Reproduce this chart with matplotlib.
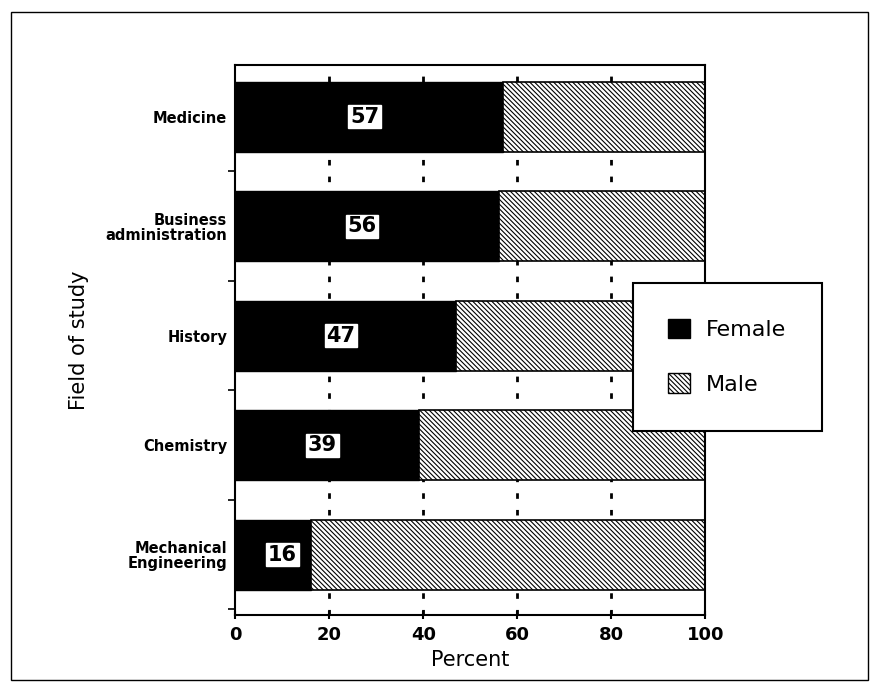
import matplotlib
matplotlib.use("Agg")
import matplotlib.pyplot as plt
from matplotlib.patches import Patch, Rectangle

# data
fields = ["Mechanical\nEngineering", "Chemistry", "History",
          "Business\nadministration", "Medicine"]
female = [16, 39, 47, 56, 57]
male = [100 - f for f in female]

plt.rcParams['hatch.linewidth'] = 0.8

fig = plt.figure(figsize=(8.75, 6.87), dpi=100)
ax = fig.add_axes([0.269, 0.105, 0.537, 0.8])

pos = list(range(len(fields)))
hatch = '\\\\\\\\\\\\\\'
ax.barh(pos, female, height=0.64, color='black', edgecolor='black', zorder=2)
ax.barh(pos, male, left=female, height=0.64, color='white', edgecolor='black',
        hatch=hatch, linewidth=1.2, zorder=2)

for p, f in zip(pos, female):
    ax.text(f * 0.5 + (2 if f < 20 else -1), p, str(f), ha='center', va='center',
            fontsize=15, fontweight='bold', color='black', zorder=3,
            bbox=dict(boxstyle='square,pad=0.08', fc='white', ec='white'))

# dotted grid only shows in the gaps
for gx in [20, 40, 60, 80]:
    ax.axvline(gx, color='black', linestyle=(0, (2, 4)), linewidth=2, zorder=1)

ax.set_xlim(0, 100)
ax.set_ylim(-0.55, 4.47)
ax.set_xticks([0, 20, 40, 60, 80, 100])
ax.set_xticklabels(['0', '20', '40', '60', '80', '100'], fontsize=13, fontweight='bold')
ax.set_yticks(pos)
ax.set_yticklabels(fields, fontsize=10.5, fontweight='bold', linespacing=1.0)
ax.set_yticks([-0.5, 0.5, 1.5, 2.5, 3.5], minor=True)
ax.tick_params(axis='y', which='major', length=0, pad=6)
ax.tick_params(axis='y', which='minor', length=5, width=1.2, direction='out')
ax.tick_params(axis='x', length=6, width=1.5, direction='inout', pad=5)
for s in ax.spines.values():
    s.set_linewidth(1.5)

ax.set_xlabel('Percent', fontsize=15, labelpad=4)
ax.set_ylabel('Field of study', fontsize=15, labelpad=12)

handles = [Patch(facecolor='black', edgecolor='black', label='Female'),
           Patch(facecolor='white', edgecolor='black', hatch=hatch, label='Male')]
leg = fig.legend(handles=handles, loc='upper left', bbox_to_anchor=(0.723, 0.588),
                 fontsize=16, frameon=True, fancybox=False, edgecolor='black',
                 framealpha=1, borderpad=1.6, labelspacing=1.5, handlelength=1.0,
                 handleheight=1.0, handletextpad=0.7, borderaxespad=0)
leg.get_frame().set_linewidth(1.5)
leg.set_zorder(5)

# scanned page border
fig.add_artist(Rectangle((0.012, 0.01), 0.98, 0.972, transform=fig.transFigure,
                         fill=False, edgecolor='black', linewidth=1.0))

fig.savefig('out.png', dpi=100, facecolor='white')
